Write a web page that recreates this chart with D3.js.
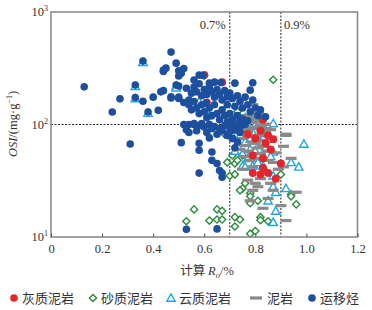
<!DOCTYPE html>
<html>
<head>
<meta charset="utf-8">
<script src="https://cdn.jsdelivr.net/npm/d3@7"></script>
<style>
body { margin: 0; background: #fff; }
svg text { fill: #333; }
</style>
</head>
<body>
<svg id="chart" width="372" height="310"></svg>
<script>
// [Ro %, OSI mg/g]
var migrated = [[0.13,216],[0.24,129],[0.27,169],[0.33,224],[0.33,174],[0.36,366],[0.36,161],[0.38,129],
  [0.40,175],[0.42,134],[0.44,200],[0.44,296],[0.45,317],[0.47,440],[0.47,172],[0.49,351],[0.49,224],
  [0.50,220],[0.50,300],[0.50,270],[0.50,175],[0.31,67],[0.51,69],[0.44,305],[0.52,315],[0.51,285],
  [0.56,248],[0.58,275],[0.595,273],[0.62,233],[0.64,238],[0.665,236],[0.72,233],[0.43,195],[0.47,176],
  [0.50,170],[0.52,157],[0.54,165],[0.607,155],[0.69,176],[0.79,235],[0.78,202],[0.84,117],
  [0.53,210],[0.55,190],[0.56,215],[0.57,195],[0.58,230],[0.59,180],[0.60,205],[0.61,185],[0.62,215],
  [0.63,195],[0.64,175],[0.65,205],[0.66,185],[0.67,165],[0.68,200],[0.69,150],[0.70,190],[0.71,170],
  [0.72,145],[0.73,180],[0.74,160],[0.75,140],[0.76,175],[0.77,150],[0.78,130],[0.79,165],[0.80,140],
  [0.81,120],[0.82,135],[0.54,150],[0.55,135],[0.56,160],[0.57,140],[0.58,125],[0.59,150],[0.60,130],
  [0.61,115],[0.62,140],[0.63,120],[0.64,150],[0.65,125],[0.66,110],[0.67,135],[0.68,120],[0.69,105],
  [0.70,125],[0.71,110],[0.72,100],[0.73,120],[0.74,105],[0.75,112],[0.76,100],[0.77,108],
  [0.52,100],[0.54,100],[0.56,100],[0.58,98],[0.60,95],[0.62,100],[0.64,96],[0.66,92],[0.68,98],
  [0.70,95],[0.72,90],[0.74,85],[0.53,90],[0.57,88],[0.61,85],[0.65,82],[0.69,80],
  [0.54,85],[0.58,68],[0.58,59],[0.62,76],[0.63,57],[0.63,48],[0.65,45],[0.58,37],[0.66,39],
  [0.67,37],[0.67,34],[0.56,102],[0.59,102],[0.63,92],[0.67,88],[0.70,86],[0.65,11.8],[0.53,11.7],
  [0.71,75],[0.73,70],[0.72,62],[0.74,95]];

var calcMud = [[0.60,275],[0.67,238],[0.61,157],[0.77,82],[0.82,88],[0.83,110],[0.80,75],
  [0.85,80],[0.87,74],[0.84,68],[0.86,60],[0.79,53],[0.83,50],[0.83,41],[0.79,37],[0.82,36],[0.85,37],
  [0.88,33],[0.90,45]];

var sandMud = [[0.87,250],[0.69,46],[0.72,45],[0.71,53],[0.73,48],[0.75,53],[0.70,35],[0.72,36],
  [0.76,30],[0.75,27],[0.74,26],[0.78,24.5],[0.78,23],[0.78,20],[0.81,21],[0.90,36],[0.94,24],
  [0.94,23],[0.96,19.5],[0.56,17.6],[0.53,13.8],[0.62,14],[0.65,17.6],[0.67,17.1],[0.65,14.3],
  [0.67,14.3],[0.72,15],[0.74,14.3],[0.72,12.4],[0.78,10.7],[0.80,11.3],[0.82,15],[0.82,14.1],
  [0.85,13.8],[0.60,272],[0.70,120],[0.73,130],[0.68,82]];

var dolMud = [[0.33,218],[0.33,170],[0.36,356],[0.38,126],[0.49,220],[0.49,212],[0.56,205],[0.58,160],
  [0.62,120],[0.99,67],[0.97,42],[0.94,46],[0.87,35],[0.87,28],[0.88,25],[0.92,27],[0.85,21],[0.88,17],
  [0.87,13.5],[0.75,43],[0.76,42],[0.79,43],[0.83,43],[0.87,57],[0.87,102],[0.83,83],[0.72,95],
  [0.74,80],[0.76,70],[0.79,85],[0.81,76],[0.83,92],[0.78,60],[0.80,58],[0.84,62],[0.77,100],
  [0.79,120],[0.82,130],[0.75,55],[0.73,65],[0.86,74],[0.74,92],[0.78,74],[0.82,70],[0.85,95],
  [0.80,100],[0.76,115],[0.71,80],[0.72,58],[0.77,50],[0.81,46],[0.86,52]];

var mudstone = [[0.92,80],[0.91,64],[0.79,55],[0.82,55],[0.87,46],[0.91,42],[0.94,50],[0.77,32],
  [0.80,30],[0.81,28],[0.86,30],[0.78,21],[0.85,22],[0.90,19],[0.92,14],[0.96,25],[0.76,90],[0.78,95],
  [0.80,92],[0.82,98],[0.77,78],[0.80,80],[0.84,85],[0.79,70],[0.83,72],[0.86,90],[0.76,65],[0.81,62],
  [0.85,58],[0.74,60],[0.78,48],[0.88,56],[0.75,75],[0.80,110],[0.84,100],[0.72,72],[0.73,85],
  [0.79,150],[0.81,126],[0.79,114],[0.83,116],[0.74,109],[0.92,82],[0.76,120],[0.78,118],[0.81,105],
  [0.84,92],[0.77,86],[0.82,80],[0.80,68],[0.83,64],[0.77,58],[0.81,50],[0.85,48],[0.76,52],[0.79,42],
  [0.84,38],[0.89,40],[0.75,40],[0.82,33],[0.87,26],[0.79,26],[0.83,18],[0.78,105],[0.75,96]];

var xTicks = [0, 0.2, 0.4, 0.6, 0.8, 1.0, 1.2];
var yTicks = [10, 100, 1000];
var yExps = ["1", "2", "3"];
var refRo = [0.7, 0.9];
var refLabels = ["0.7%", "0.9%"];
var refOSI = 100;

var legendNames = ["灰质泥岩", "砂质泥岩", "云质泥岩", "泥岩", "运移烃"];

var svg = d3.select("#chart");
var serif = "'Liberation Serif', 'DejaVu Serif', serif";
var cjk = "'Noto Sans CJK SC', sans-serif";

var x = d3.scaleLinear().domain([0, 1.2]).range([51, 357.5]);
var y = d3.scaleLog().domain([10, 1000]).range([237, 12]);

var cRed = "#e4262c", cGreen = "#2b8a3b", cCyan = "#21a4e4", cGrey = "#8a8a8a", cBlue = "#1d4f9f";

// reference lines
svg.append("g").selectAll("line").data(refRo).enter().append("line")
    .attr("x1", d => x(d)).attr("x2", d => x(d))
    .attr("y1", y(1000)).attr("y2", y(10))
    .attr("stroke", "#222").attr("stroke-width", 1).attr("stroke-dasharray", "2,1.5");
svg.append("line")
    .attr("x1", x(0)).attr("x2", x(1.2)).attr("y1", y(refOSI)).attr("y2", y(refOSI))
    .attr("stroke", "#222").attr("stroke-width", 1).attr("stroke-dasharray", "2,1.5");

svg.append("g").selectAll("text").data(refRo).enter().append("text")
    .attr("x", (d, i) => i == 0 ? x(d) - 4 : x(d) + 3)
    .attr("y", 29)
    .attr("text-anchor", (d, i) => i == 0 ? "end" : "start")
    .attr("font-family", serif).attr("font-size", 12.5)
    .text((d, i) => refLabels[i]);

// points
var gPts = svg.append("g");

gPts.selectAll(".sand").data(sandMud).enter().append("path")
    .attr("class", "sand")
    .attr("transform", d => "translate(" + x(d[0]) + "," + y(d[1]) + ")")
    .attr("d", "M0,-3.6L3.6,0L0,3.6L-3.6,0Z")
    .attr("fill", "#fff").attr("stroke", cGreen).attr("stroke-width", 1.4);

gPts.selectAll(".dol").data(dolMud).enter().append("path")
    .attr("class", "dol")
    .attr("transform", d => "translate(" + x(d[0]) + "," + y(d[1]) + ")")
    .attr("d", "M0,-4.2L4.2,3.2L-4.2,3.2Z")
    .attr("fill", "#fff").attr("stroke", cCyan).attr("stroke-width", 1.4);

gPts.selectAll(".mud").data(mudstone).enter().append("rect")
    .attr("class", "mud")
    .attr("x", d => x(d[0]) - 5.5).attr("y", d => y(d[1]) - 1.6)
    .attr("width", 11).attr("height", 3.2)
    .attr("fill", cGrey);

gPts.selectAll(".calc").data(calcMud).enter().append("circle")
    .attr("class", "calc")
    .attr("cx", d => x(d[0])).attr("cy", d => y(d[1])).attr("r", 4)
    .attr("fill", cRed);

gPts.selectAll(".mig").data(migrated).enter().append("circle")
    .attr("class", "mig")
    .attr("cx", d => x(d[0])).attr("cy", d => y(d[1])).attr("r", 3.8)
    .attr("fill", cBlue);

// frame
svg.append("rect")
    .attr("x", x(0)).attr("y", y(1000))
    .attr("width", x(1.2) - x(0)).attr("height", y(10) - y(1000))
    .attr("fill", "none").attr("stroke", "#8c8c8c").attr("stroke-width", 1.6);

// x axis
var xAxis = svg.append("g")
    .attr("transform", "translate(0," + y(10) + ")")
    .call(d3.axisBottom(x).tickValues(xTicks).tickSize(-3.5)
        .tickFormat(d => d == 0 ? "0" : d.toFixed(1)));
xAxis.select(".domain").remove();
xAxis.selectAll("line").attr("stroke", "#555");
xAxis.selectAll("text").attr("font-family", serif).attr("font-size", 12.5)
    .attr("fill", "#333").attr("dy", "1.05em").attr("y", 3);

// y axis labels with exponents
var yLab = svg.append("g").selectAll("text").data(yTicks).enter().append("text")
    .attr("x", 48).attr("y", d => y(d) + 4)
    .attr("text-anchor", "end")
    .attr("font-family", serif).attr("font-size", 12.5);
yLab.append("tspan").text("10");
yLab.append("tspan").attr("dy", -5).attr("font-size", 8).text((d, i) => yExps[i]);

// axis titles
var yt = svg.append("text")
    .attr("transform", "translate(17,124) rotate(-90)")
    .attr("text-anchor", "middle")
    .attr("font-family", serif).attr("font-size", 12.5);
yt.append("tspan").attr("font-style", "italic").text("OSI");
yt.append("tspan").text("/(mg·g");
yt.append("tspan").attr("dy", -5).attr("font-size", 8).text("−1");
yt.append("tspan").attr("dy", 5).text(")");

var xt = svg.append("text")
    .attr("x", 207).attr("y", 275)
    .attr("text-anchor", "middle")
    .attr("font-size", 12.5);
xt.append("tspan").attr("font-family", cjk).text("计算 ");
xt.append("tspan").attr("font-family", serif).attr("font-style", "italic").text("R");
xt.append("tspan").attr("font-family", serif).attr("font-style", "italic")
    .attr("font-size", 8.5).attr("dy", 3).text("o");
xt.append("tspan").attr("font-family", serif).attr("dy", -3).text("/%");

// legend
var legX = [14, 93, 171, 256, 312];
var legY = 298;
var lg = svg.append("g");
lg.append("circle").attr("cx", legX[0]).attr("cy", legY).attr("r", 3.8).attr("fill", cRed);
lg.append("path").attr("transform", "translate(" + legX[1] + "," + legY + ")")
    .attr("d", "M0,-3.6L3.6,0L0,3.6L-3.6,0Z")
    .attr("fill", "#fff").attr("stroke", cGreen).attr("stroke-width", 1.4);
lg.append("path").attr("transform", "translate(" + legX[2] + "," + legY + ")")
    .attr("d", "M0,-4.2L4.2,3.2L-4.2,3.2Z")
    .attr("fill", "#fff").attr("stroke", cCyan).attr("stroke-width", 1.4);
lg.append("rect").attr("x", legX[3] - 6).attr("y", legY - 1.6).attr("width", 12).attr("height", 3.2)
    .attr("fill", cGrey);
lg.append("circle").attr("cx", legX[4]).attr("cy", legY).attr("r", 3.8).attr("fill", cBlue);

lg.selectAll("text").data(legendNames).enter().append("text")
    .attr("x", (d, i) => legX[i] + (i == 3 ? 11 : 8))
    .attr("y", legY + 4.5)
    .attr("font-family", cjk).attr("font-size", 13)
    .text(d => d);
</script>
</body>
</html>
